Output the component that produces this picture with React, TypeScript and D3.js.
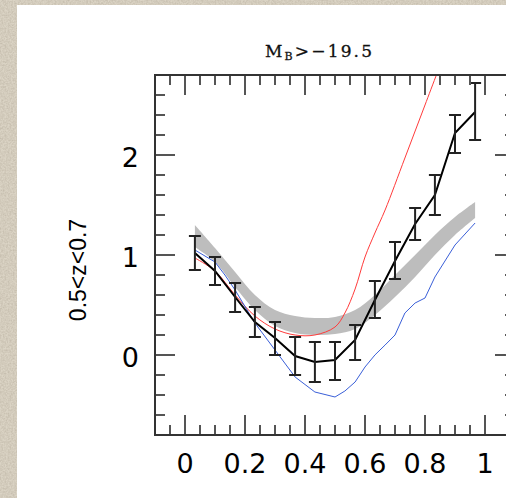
import React from "react";
import * as d3 from "d3";

// ---- data ----
const binX = [0.033, 0.1, 0.167, 0.233, 0.3, 0.367, 0.433, 0.5, 0.567, 0.633, 0.7, 0.767, 0.833, 0.9, 0.967];
const obsY = [1.02, 0.84, 0.58, 0.33, 0.17, -0.01, -0.07, -0.05, 0.15, 0.55, 0.94, 1.31, 1.6, 2.22, 2.43];
const obsHi = [1.19, 0.98, 0.72, 0.48, 0.33, 0.18, 0.13, 0.13, 0.3, 0.74, 1.13, 1.47, 1.8, 2.4, 2.72];
const obsLo = [0.85, 0.7, 0.43, 0.18, 0.0, -0.2, -0.27, -0.25, -0.05, 0.37, 0.76, 1.15, 1.4, 2.02, 2.15];

const redX = [0.033, 0.1, 0.167, 0.233, 0.3, 0.367, 0.433, 0.5, 0.533, 0.567, 0.6, 0.633, 0.667, 0.733, 0.8, 0.867];
const redY = [0.97, 0.84, 0.6, 0.39, 0.26, 0.2, 0.2, 0.28, 0.42, 0.66, 0.98, 1.22, 1.45, 1.97, 2.5, 3.03];

const blueX = [0.033, 0.1, 0.133, 0.167, 0.233, 0.3, 0.367, 0.433, 0.5, 0.533, 0.567, 0.6, 0.633, 0.667, 0.7, 0.733, 0.767, 0.8, 0.833, 0.9, 0.967];
const blueY = [1.05, 0.93, 0.8, 0.65, 0.32, 0.05, -0.22, -0.37, -0.42, -0.36, -0.27, -0.12, 0.0, 0.1, 0.2, 0.42, 0.52, 0.57, 0.78, 1.1, 1.32];

const bandX = [0.033, 0.1, 0.167, 0.233, 0.3, 0.367, 0.433, 0.5, 0.567, 0.633, 0.7, 0.767, 0.833, 0.9, 0.967];
const bandHi = [1.3, 1.07, 0.83, 0.6, 0.45, 0.39, 0.37, 0.38, 0.45, 0.6, 0.8, 1.0, 1.2, 1.38, 1.53];
const bandLo = [1.08, 0.93, 0.68, 0.45, 0.29, 0.22, 0.2, 0.21, 0.26, 0.4, 0.58, 0.78, 1.0, 1.2, 1.37];

const xTickLabels = ["0", "0.2", "0.4", "0.6", "0.8", "1"];
const yTickLabels = ["0", "1", "2"];
const titleMain = "M";
const titleSub = "B";
const titleRest = ">\u221219.5";
const yTitle = "0.5<z<0.7";

export default function App() {
  const W = 506, H = 498;
  const x = d3.scaleLinear().domain([-0.1, 1.1]).range([155, 515]);
  const y = d3.scaleLinear().domain([-0.8, 2.8]).range([435, 75]);
  const [x0, x1] = x.range();
  const [yb, yt] = y.range();

  const xMinor = d3.range(-2, 23).map((i) => -0.1 + i * 0.05).filter((v) => v > -0.1 + 1e-6 && v < 1.1 - 1e-6);
  const isXMajor = (v: number) => Math.abs(v / 0.2 - Math.round(v / 0.2)) < 1e-6;
  const yMinor = d3.range(0, 19).map((i) => -0.8 + i * 0.2).filter((v) => v > -0.8 + 1e-6 && v < 2.8 - 1e-6);
  const isYMajor = (v: number) => Math.abs(v - Math.round(v)) < 1e-6;

  const obsLine = d3.line<number>().x((_, i) => x(binX[i])).y((d) => y(d))(obsY) || "";
  const redLine = d3.line<number>().x((_, i) => x(redX[i])).y((d) => y(d)).curve(d3.curveCatmullRom)(redY) || "";
  const blueLine = d3.line<number>().x((_, i) => x(blueX[i])).y((d) => y(d))(blueY) || "";
  const band = d3.area<number>().x((_, i) => x(bandX[i])).y0((_, i) => y(bandLo[i])).y1((d) => y(d)).curve(d3.curveCatmullRom)(bandHi) || "";

  const tickColor = "#555";
  return (
    <svg width={W} height={H} style={{ position: "absolute", left: 0, top: 0 }} xmlns="http://www.w3.org/2000/svg">
      <defs>
        <filter id="paper" x="0" y="0" width="100%" height="100%">
          <feTurbulence type="fractalNoise" baseFrequency="0.6" numOctaves={3} seed={4} result="n" />
          <feColorMatrix in="n" type="matrix" values="0 0 0 0 0.45  0 0 0 0 0.40  0 0 0 0 0.32  0 0 0 0.9 -0.25" />
        </filter>
        <clipPath id="plot">
          <rect x={x0} y={yt} width={x1 - x0} height={yb - yt} />
        </clipPath>
      </defs>
      <rect x={0} y={0} width={W} height={H} fill="#dbd4c5" />
      <rect x={0} y={0} width={W} height={H} filter="url(#paper)" />
      <rect x={17} y={5} width={W - 17} height={H - 5} fill="#fff" />

      <g clipPath="url(#plot)">
        <path d={band} fill="#bdbdbd" stroke="none" />
        <path d={redLine} fill="none" stroke="#ff3b3b" strokeWidth={1} />
        <path d={blueLine} fill="none" stroke="#3a5fd8" strokeWidth={1} />
        <path d={obsLine} fill="none" stroke="#000" strokeWidth={2} />
        {binX.map((v, i) => (
          <g key={i} stroke="#222" strokeWidth={2}>
            <line x1={x(v)} x2={x(v)} y1={y(obsLo[i])} y2={y(obsHi[i])} />
            <line x1={x(v) - 6} x2={x(v) + 6} y1={y(obsLo[i])} y2={y(obsLo[i])} />
            <line x1={x(v) - 6} x2={x(v) + 6} y1={y(obsHi[i])} y2={y(obsHi[i])} />
          </g>
        ))}
      </g>

      {/* ticks */}
      <g stroke={tickColor} strokeWidth={2}>
        {xMinor.map((v, i) => {
          const len = isXMajor(v) ? 20 : 10;
          return (
            <g key={"xt" + i}>
              <line x1={x(v)} x2={x(v)} y1={yb} y2={yb - len} />
              <line x1={x(v)} x2={x(v)} y1={yt} y2={yt + len} />
            </g>
          );
        })}
        {yMinor.map((v, i) => {
          const len = isYMajor(v) ? 20 : 10;
          return (
            <g key={"yt" + i}>
              <line x1={x0} x2={x0 + len} y1={y(v)} y2={y(v)} />
              <line x1={x1} x2={x1 - len} y1={y(v)} y2={y(v)} />
            </g>
          );
        })}
      </g>
      <rect x={x0} y={yt} width={x1 - x0} height={yb - yt} fill="none" stroke="#333" strokeWidth={2} />

      {/* tick labels */}
      <g fontFamily="DejaVu Sans" fontSize={27} fill="#000">
        {xTickLabels.map((t) => (
          <text key={t} x={x(+t)} y={473} textAnchor="middle">{t}</text>
        ))}
        {yTickLabels.map((t) => (
          <text key={t} x={139} y={y(+t) + 12} textAnchor="end">{t}</text>
        ))}
      </g>

      <text x={265} y={57} fontFamily="DejaVu Serif" fontSize={17} fill="#111" stroke="#111" strokeWidth={0.3} textLength={107} lengthAdjust="spacing">
        {titleMain}
        <tspan fontSize={11} dy={3}>{titleSub}</tspan>
        <tspan dy={-3}>{titleRest}</tspan>
      </text>

      <text
        transform="translate(86,270) rotate(-90)"
        textAnchor="middle"
        fontFamily="Liberation Sans"
        fontSize={23}
        fill="#000"
      >
        {yTitle}
      </text>
    </svg>
  );
}
